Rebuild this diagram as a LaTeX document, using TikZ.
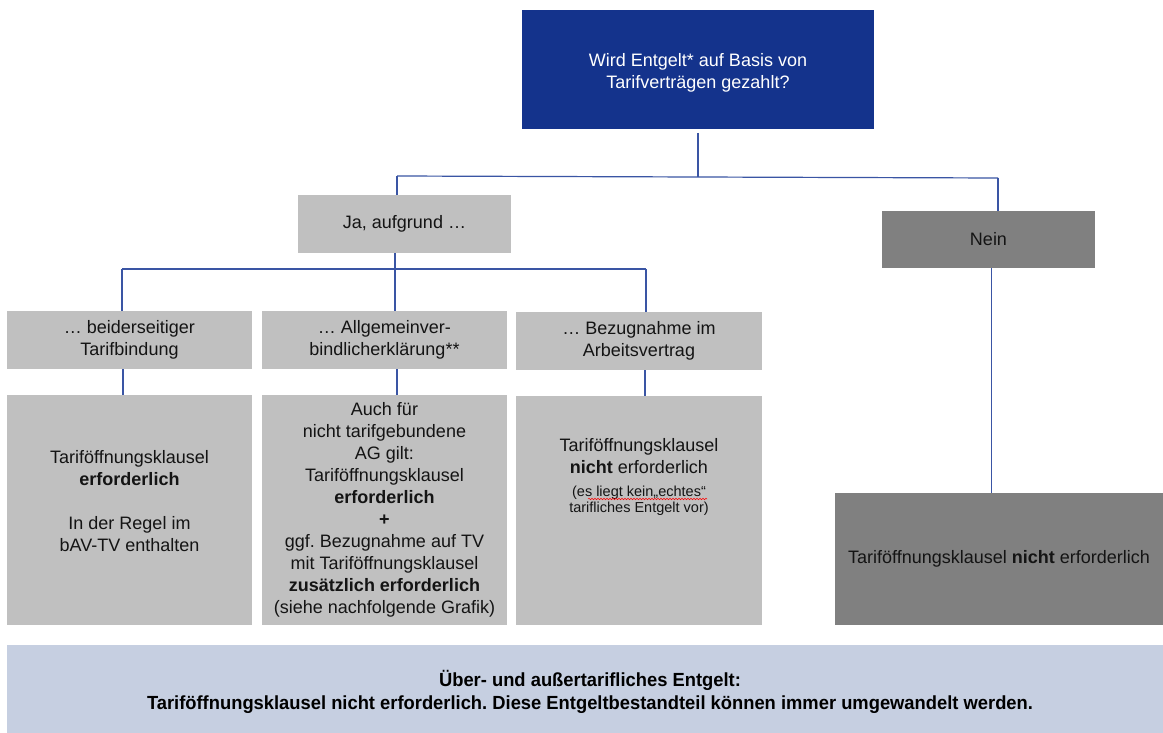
\documentclass[tikz,border=0pt]{standalone}
\usepackage{graphicx}
\usepackage{fontspec}
\setmainfont{Liberation Sans}
\usetikzlibrary{decorations.pathmorphing}
\definecolor{qblue}{HTML}{14338C}
\definecolor{lgray}{HTML}{C0C0C0}
\definecolor{dgray}{HTML}{808080}
\definecolor{bandcol}{HTML}{C6CFE1}
\definecolor{linkcol}{HTML}{3A55A4}
\definecolor{txt}{HTML}{141414}
\newsavebox\bandboxa
\newsavebox\bandboxb
\newlength\bandlen
\frenchspacing
\begin{document}
\sbox\bandboxa{\fontsize{19}{23}\selectfont\bfseries Über- und außertarifliches Entgelt:}%
\sbox\bandboxb{\fontsize{19}{23}\selectfont\bfseries Tariföffnungsklausel nicht erforderlich. Diese Entgeltbestandteil können immer umgewandelt werden.}%
\setlength\bandlen{\wd\bandboxb}%
\pgfmathsetmacro\bandsc{886/\bandlen}%
\begin{tikzpicture}[x=1pt,y=-1pt,
  box/.style={inner sep=0pt, outer sep=0pt, align=center, font=\fontsize{18}{22}\selectfont, text=txt},
  lbox/.style={box, fill=lgray},
  dbox/.style={box, fill=dgray},
  txtnode/.style={inner sep=0pt, align=center, font=\fontsize{18}{22}\selectfont, text=txt},
  link/.style={draw=linkcol, line width=1.2pt}]
\useasboundingbox (0,0) rectangle (1163,733);
\fill[white] (0,0) rectangle (1163,733);

% boxes
\node[box, fill=qblue, minimum width=352, minimum height=119] (q) at (698,69.5) {};
\node[txtnode, text=white] (qt) at (698,72.5) {Wird Entgelt* auf Basis von\\Tarifverträgen gezahlt?};
\node[lbox, minimum width=213, minimum height=58] (ja) at (404.5,224) {Ja, aufgrund …};
\node[dbox, minimum width=213, minimum height=57] (nein) at (988.5,239.5) {Nein};
\node[lbox, minimum width=245, minimum height=58] (b1) at (129.5,340) {… beiderseitiger\\Tarifbindung};
\node[lbox, minimum width=245, minimum height=58] (b2) at (384.5,340) {… Allgemeinver-\\bindlicherklärung**};
\node[lbox, minimum width=246, minimum height=58] (b3) at (639,341) {… Bezugnahme im\\Arbeitsvertrag};
\node[lbox, minimum width=245, minimum height=230] (l1) at (129.5,510) {};
\node[lbox, minimum width=245, minimum height=230] (l2) at (384.5,510) {};
\node[lbox, minimum width=246, minimum height=229] (l3) at (639,510.5) {};
\node[dbox, minimum width=328, minimum height=132] (r) at (999,559) {Tariföffnungsklausel \textbf{nicht} erforderlich};
\node[fill=bandcol, inner sep=0pt, minimum width=1156, minimum height=88] (band) at (585,689) {};

% texts in the tall boxes
\node[txtnode] (t1) at (129.5,501.5) {Tariföffnungsklausel\\\textbf{erforderlich}\\[22pt]In der Regel im\\bAV-TV enthalten};
\node[txtnode] (t2) at (384.5,509.5) {Auch für\\nicht tarifgebundene\\AG gilt:\\Tariföffnungsklausel\\\textbf{erforderlich}\\\textbf{+}\\ggf. Bezugnahme auf TV\\mit Tariföffnungsklausel\\\textbf{zusätzlich erforderlich}\\(siehe nachfolgende Grafik)};
\node[txtnode] (t3) at (639,477) {Tariföffnungsklausel\\\textbf{nicht} erforderlich\\[1pt]{\fontsize{14.5}{16}\selectfont (es liegt kein„echtes“}\\[-6pt]{\fontsize{14.5}{16}\selectfont tarifliches Entgelt vor)}};
\coordinate (sq1) at (588,499);
\coordinate (sq2) at (707,499);
\draw[red, line width=0.5pt, decorate, decoration={snake, amplitude=0.8pt, segment length=3pt}] (sq1) -- (sq2);

% band text
\node[inner sep=0pt, align=center, text=black, font=\fontsize{19}{23}\selectfont] (bandtxt) at (590,692) {\scalebox{\bandsc}[1]{\usebox\bandboxa}\\\scalebox{\bandsc}[1]{\usebox\bandboxb}};

% connectors
\coordinate (h1l) at (397,176);
\coordinate (h1r) at (998,178);
\draw[link] ([yshift=-4pt]q.south) -- (q.south |- 0,177);
\draw[link] (h1l) -- (h1r);
\draw[link] (h1l) -- (h1l |- ja.north);
\draw[link] (h1r) -- (h1r |- nein.north);
\coordinate (h2l) at (122,269);
\coordinate (h2r) at (646,269);
\coordinate (v2) at (395,0);
\draw[link] (v2 |- ja.south) -- (v2 |- b2.north);
\draw[link] (h2l) -- (h2r);
\draw[link] (h2l) -- (h2l |- b1.north);
\draw[link] (h2r) -- (h2r |- b3.north);
\coordinate (c1) at (123,0);
\coordinate (c2) at (397,0);
\coordinate (c3) at (645,0);
\coordinate (c4) at (991.5,0);
\draw[link] (c1 |- b1.south) -- (c1 |- l1.north);
\draw[link] (c2 |- b2.south) -- (c2 |- l2.north);
\draw[link] (c3 |- b3.south) -- (c3 |- l3.north);
\draw[link] (c4 |- nein.south) -- (c4 |- r.north);
\end{tikzpicture}
\end{document}
